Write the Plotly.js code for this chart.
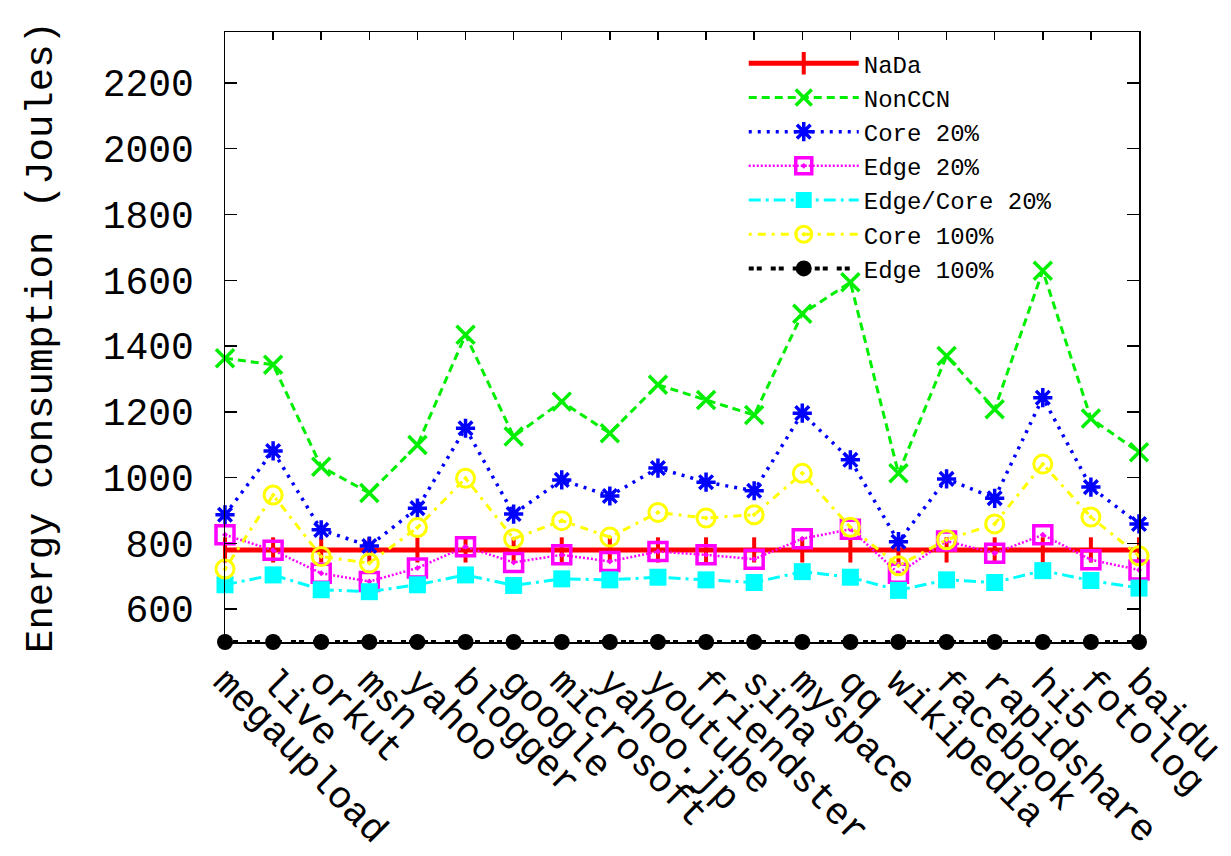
<!DOCTYPE html>
<html>
<head>
<meta charset="utf-8">
<script src="https://cdn.plot.ly/plotly-3.0.1.min.js"></script>
<style>html,body{margin:0;padding:0;background:#fff;}#chart{width:1231px;height:856px;}</style>
</head>
<body>
<div id="chart"></div>
<script>
const sites = ["megaupload","live","orkut","msn","yahoo","blogger","google","microsoft","yahoo.jp","youtube","friendster","sina","myspace","qq","wikipedia","facebook","rapidshare","hi5","fotolog","baidu"];
const nada      = [780,780,780,780,780,780,780,780,780,780,780,780,780,780,780,780,780,780,780,780];
const nonccn    = [1363,1343,1033,953,1099,1434,1125,1231,1135,1282,1236,1190,1498,1594,1013,1370,1208,1629,1180,1077];
const core20    = [887,1081,841,792,907,1150,889,993,944,1029,986,960,1196,1054,805,996,937,1243,971,859];
const edge20    = [826,779,709,684,725,790,742,765,745,775,765,752,814,843,709,807,770,826,750,719];
const edgecore20= [674,704,659,653,674,704,672,692,689,697,689,681,714,697,657,689,681,717,687,664];
const core100   = [722,947,760,740,848,998,814,869,819,894,877,887,1013,849,732,811,859,1041,880,762];
const edge100   = [500,500,500,500,500,500,500,500,500,500,500,500,500,500,500,500,500,500,500,500];
const yTicks    = [600,800,1000,1200,1400,1600,1800,2000,2200];

const FONT = "Liberation Mono, Courier New, monospace";

function tr(name, y, color, width, dash, symbol, msize, mlw) {
  return {
    type: "scatter", mode: "lines+markers", name: name,
    x: sites, y: y, cliponaxis: false,
    line: {color: color, width: width, dash: dash},
    marker: {symbol: symbol, size: msize, color: color, line: {color: color, width: mlw}}
  };
}

const data = [
  tr("NaDa", nada, "#ff0000", 5, "solid", "line-ns-open", 18, 4),
  tr("NonCCN", nonccn, "#00ee00", 3, "8px,5px", "x-thin-open", 18, 3.5),
  tr("Core 20%", core20, "#0000ff", 3.5, "3px,6px", "asterisk-open", 16, 3.5),
  tr("Edge 20%", edge20, "#ff00ff", 2.5, "2px,2px", "square-open-dot", 18, 3.5),
  tr("Edge/Core 20%", edgecore20, "#00ffff", 3, "12px,5px,3px,5px", "square", 17, 0),
  tr("Core 100%", core100, "#ffff00", 3, "3px,6px,8px,6px", "circle-open-dot", 18, 3),
  tr("Edge 100%", edge100, "#000000", 4, "5px,3px,5px,9px", "circle", 16, 0)
];

const layout = {
  width: 1231, height: 856,
  paper_bgcolor: "#ffffff", plot_bgcolor: "#ffffff",
  margin: {l: 225, r: 92, t: 32, b: 214},
  font: {family: FONT, color: "#000"},
  showlegend: true,
  legend: {
    x: 0.91, xanchor: "right", y: 0.985, yanchor: "top",
    bgcolor: "rgba(0,0,0,0)", borderwidth: 0,
    font: {family: FONT, size: 24, color: "#000"},
    itemwidth: 110, tracegroupgap: 0
  },
  xaxis: {
    type: "category", range: [0, 19],
    showgrid: false, zeroline: false,
    showline: true, linecolor: "#000", linewidth: 1.5, mirror: "ticks",
    ticks: "inside", ticklen: 8, tickcolor: "#000", tickwidth: 1.5,
    tickangle: 45, tickfont: {family: FONT, size: 38, color: "#000"}
  },
  yaxis: {
    range: [500, 2355],
    tickvals: yTicks, ticktext: yTicks.map(String),
    showgrid: false, zeroline: false,
    showline: true, linecolor: "#000", linewidth: 1.5, mirror: "ticks",
    ticks: "inside", ticklen: 12, tickcolor: "#000", tickwidth: 1.5,
    ticklabelstandoff: 22,
    tickfont: {family: FONT, size: 38, color: "#000"},
    title: {text: "Energy consumption (Joules)", font: {family: FONT, size: 39, color: "#000"}, standoff: 38}
  }
};

Plotly.newPlot("chart", data, layout, {displayModeBar: false, staticPlot: true});
</script>
</body>
</html>
